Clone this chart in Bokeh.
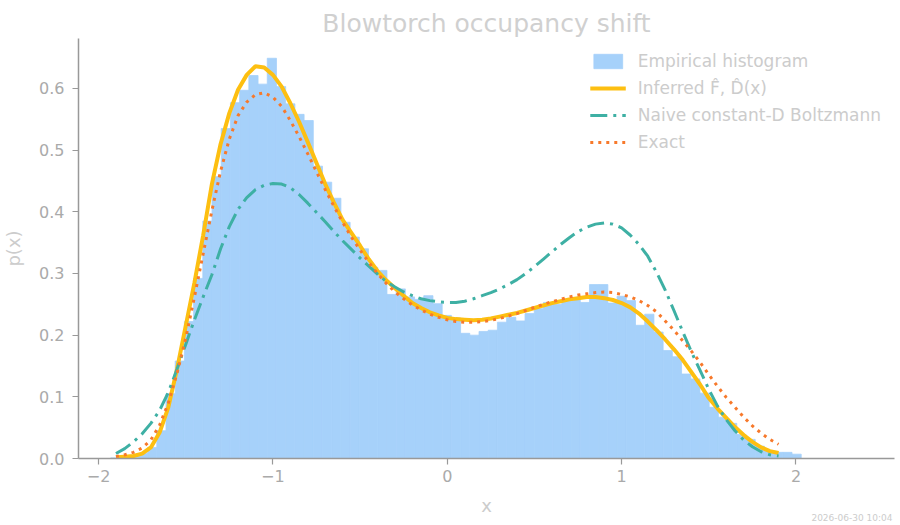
import numpy as np
from bokeh.plotting import figure
from bokeh.models import (Range1d, FixedTicker, PrintfTickFormatter, Legend, LegendItem,
                          Label, ColumnDataSource)
from bokeh.embed import file_html
from bokeh.resources import INLINE

# ---------------- data ----------------
hist_heights = [0.001, 0.002, 0.004, 0.008, 0.018, 0.045, 0.105, 0.158, 0.222, 0.292,
                0.385, 0.457, 0.535, 0.577, 0.597, 0.621, 0.607, 0.649, 0.603, 0.575,
                0.558, 0.548, 0.474, 0.448, 0.422, 0.383, 0.359, 0.340, 0.310, 0.305,
                0.266, 0.275, 0.262, 0.258, 0.264, 0.251, 0.232, 0.228, 0.203, 0.200,
                0.206, 0.208, 0.221, 0.229, 0.223, 0.235, 0.243, 0.253, 0.250, 0.256,
                0.259, 0.253, 0.282, 0.282, 0.252, 0.263, 0.256, 0.216, 0.234, 0.205,
                0.175, 0.165, 0.137, 0.129, 0.106, 0.083, 0.067, 0.057, 0.039, 0.031,
                0.020, 0.013, 0.010, 0.010, 0.007]
hist_lo, hist_hi = -1.93, 2.03

curve_x_lo, curve_x_hi, curve_n = -1.9, 1.9, 77

inferred = [0.002, 0.003, 0.004, 0.008, 0.018, 0.042, 0.083, 0.145, 0.215, 0.285,
            0.362, 0.445, 0.510, 0.560, 0.598, 0.622, 0.636, 0.634, 0.622, 0.603,
            0.576, 0.546, 0.513, 0.479, 0.445, 0.415, 0.387, 0.366, 0.345, 0.323,
            0.304, 0.289, 0.276, 0.264, 0.252, 0.244, 0.237, 0.232, 0.228, 0.226,
            0.225, 0.224, 0.225, 0.227, 0.230, 0.233, 0.236, 0.240, 0.244, 0.248,
            0.252, 0.255, 0.258, 0.260, 0.262, 0.262, 0.260, 0.257, 0.252, 0.245,
            0.235, 0.222, 0.208, 0.193, 0.177, 0.160, 0.140, 0.120, 0.098, 0.081,
            0.066, 0.051, 0.038, 0.027, 0.018, 0.012, 0.009]

naive = [0.008, 0.016, 0.027, 0.040, 0.057, 0.078, 0.107, 0.145, 0.185, 0.225,
         0.262, 0.298, 0.340, 0.376, 0.404, 0.423, 0.436, 0.443, 0.446, 0.445,
         0.439, 0.428, 0.414, 0.399, 0.384, 0.368, 0.353, 0.339, 0.325, 0.312,
         0.299, 0.287, 0.278, 0.270, 0.264, 0.259, 0.256, 0.254, 0.253, 0.253,
         0.255, 0.259, 0.264, 0.269, 0.275, 0.282, 0.290, 0.300, 0.311, 0.323,
         0.335, 0.347, 0.358, 0.368, 0.375, 0.380, 0.382, 0.380, 0.374, 0.362,
         0.347, 0.328, 0.302, 0.273, 0.240, 0.206, 0.173, 0.143, 0.112, 0.085,
         0.063, 0.045, 0.030, 0.019, 0.011, 0.006, 0.004]

exact = [0.003, 0.006, 0.010, 0.017, 0.030, 0.054, 0.090, 0.138, 0.195, 0.262,
         0.332, 0.402, 0.466, 0.518, 0.556, 0.578, 0.590, 0.593, 0.586, 0.571,
         0.548, 0.522, 0.494, 0.465, 0.436, 0.409, 0.383, 0.359, 0.338, 0.318,
         0.300, 0.284, 0.270, 0.259, 0.249, 0.241, 0.234, 0.229, 0.225, 0.222,
         0.221, 0.221, 0.222, 0.224, 0.227, 0.231, 0.235, 0.240, 0.245, 0.250,
         0.254, 0.258, 0.262, 0.265, 0.267, 0.269, 0.270, 0.269, 0.266, 0.262,
         0.256, 0.248, 0.238, 0.223, 0.208, 0.191, 0.174, 0.156, 0.136, 0.117,
         0.099, 0.083, 0.067, 0.053, 0.041, 0.031, 0.023]

x_ticks = [-2, -1, 0, 1, 2]
x_tick_labels = ["\u22122", "\u22121", "0", "1", "2"]
y_ticks = [0.0, 0.1, 0.2, 0.3, 0.4, 0.5, 0.6]

title_text = "Blowtorch occupancy shift"
legend_labels = ["Empirical histogram", "Inferred F\u0302, D\u0302(x)",
                 "Naive constant-D Boltzmann", "Exact"]
stamp_text = "2026-06-30 10:04"

# ---------------- build ----------------
FONT = "DejaVu Sans"
HIST_COLOR = "#a6d1fa"
edges = np.linspace(hist_lo, hist_hi, len(hist_heights) + 1)
hsrc = ColumnDataSource(dict(left=edges[:-1], right=edges[1:],
                             top=hist_heights, bottom=[0] * len(hist_heights)))
xs = np.linspace(curve_x_lo, curve_x_hi, curve_n)
csrc = ColumnDataSource(dict(x=xs, inferred=inferred, naive=naive, exact=exact))

p = figure(frame_width=816, frame_height=420, output_backend="svg", toolbar_location=None,
           x_range=Range1d(-2.115, 2.565), y_range=Range1d(0, 0.681),
           min_border_left=77, min_border_right=7, min_border_top=38, min_border_bottom=67)
p.background_fill_color = "white"
p.border_fill_color = "white"
p.outline_line_color = None
p.grid.visible = False

p.title.text = title_text
p.title.align = "center"
p.title.vertical_align = "middle"
p.title.text_font = FONT
p.title.text_font_size = "25px"
p.title.text_font_style = "normal"
p.title.text_color = "#d0d0d0"
p.title.standoff = 0

r_hist = p.quad(left="left", right="right", top="top", bottom="bottom", source=hsrc,
                fill_color=HIST_COLOR, line_color=HIST_COLOR, line_width=0.8)
r_inf = p.line("x", "inferred", source=csrc, line_color="#fdbf11", line_width=4)
r_naive = p.line("x", "naive", source=csrc, line_color="#3eb0a4", line_width=3,
                 line_dash="17 6 3 6")
r_exact = p.line("x", "exact", source=csrc, line_color="#f7792b", line_width=3,
                 line_dash="3 5")

for ax in (p.xaxis[0], p.yaxis[0]):
    ax.axis_line_color = "#999999"
    ax.axis_line_width = 1.5
    ax.major_tick_line_color = "#999999"
    ax.major_tick_line_width = 1.2
    ax.major_tick_out = 6
    ax.major_tick_in = 0
    ax.minor_tick_line_color = None
    ax.major_label_text_font = FONT
    ax.major_label_text_font_size = "16px"
    ax.major_label_text_color = "#aaaaaa"
    ax.axis_label_text_font = FONT
    ax.axis_label_text_font_size = "18px"
    ax.axis_label_text_font_style = "normal"
    ax.axis_label_text_color = "#cccccc"

p.xaxis.ticker = FixedTicker(ticks=x_ticks)
p.xaxis.major_label_overrides = {t: l for t, l in zip(x_ticks, x_tick_labels)}
p.xaxis.axis_label = "x"
p.xaxis.axis_label_standoff = 10
p.yaxis.ticker = FixedTicker(ticks=y_ticks)
p.yaxis.formatter = PrintfTickFormatter(format="%.1f")
p.yaxis.axis_label = "p(x)"
p.yaxis.axis_label_standoff = 12
p.yaxis.major_label_standoff = 8

legend = Legend(items=[LegendItem(label=legend_labels[0], renderers=[r_hist]),
                       LegendItem(label=legend_labels[1], renderers=[r_inf]),
                       LegendItem(label=legend_labels[2], renderers=[r_naive]),
                       LegendItem(label=legend_labels[3], renderers=[r_exact])],
                location="top_right", border_line_alpha=0, background_fill_alpha=0,
                label_text_font=FONT, label_text_font_size="17px",
                label_text_color="#cccccc", glyph_width=36, glyph_height=18,
                label_height=18, spacing=7, label_standoff=12, padding=5, margin=8)
p.add_layout(legend)

stamp = Label(x=814, y=11, x_units="screen", y_units="screen", text=stamp_text,
              text_font=FONT, text_font_size="9px", text_color="#cccccc",
              text_align="right", text_baseline="middle")
p.add_layout(stamp, "below")

open("out.html", "w").write(file_html(p, INLINE))
